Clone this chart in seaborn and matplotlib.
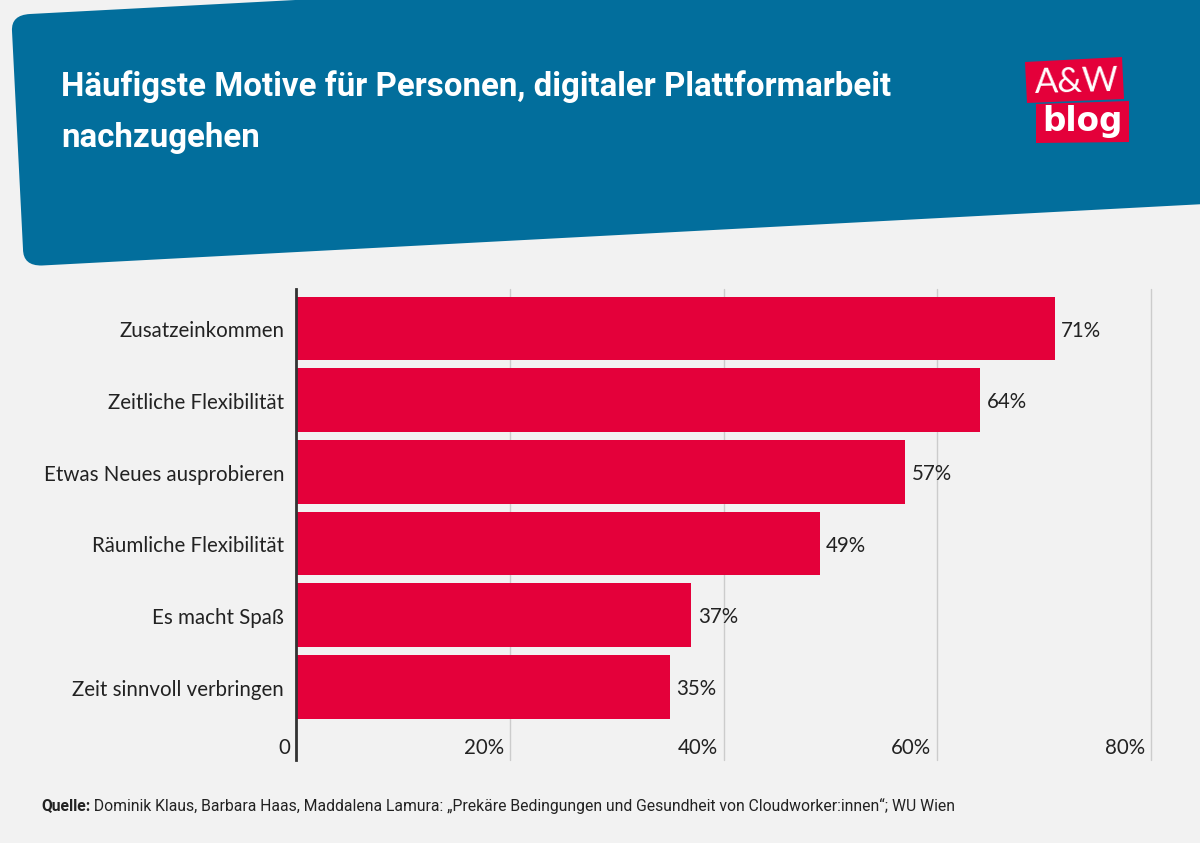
import matplotlib
matplotlib.use("Agg")
import matplotlib.pyplot as plt
import matplotlib.transforms as mtrans
from matplotlib.patches import PathPatch, Polygon
from matplotlib.path import Path
import pandas as pd
import seaborn as sns

motive = ["Zusatzeinkommen", "Zeitliche Flexibilität", "Etwas Neues ausprobieren",
          "Räumliche Flexibilität", "Es macht Spaß", "Zeit sinnvoll verbringen"]
anteil = [71, 64, 57, 49, 37, 35]
anteil_labels = ["71%", "64%", "57%", "49%", "37%", "35%"]
xticks = [0, 20, 40, 60, 80]
xtick_labels = ["0", "20%", "40%", "60%", "80%"]
titel = "Häufigste Motive für Personen, digitaler Plattformarbeit\nnachzugehen"
quelle = "Dominik Klaus, Barbara Haas, Maddalena Lamura: „Prekäre Bedingungen und Gesundheit von Cloudworker:innen“; WU Wien"

BG = "#f2f2f2"
BLAU = "#026e9c"
ROT = "#e4003a"
TEXT = "#222222"
SANS = ["Lato", "DejaVu Sans"]
NARROW = ["Roboto", "DejaVu Sans"]

sns.set_theme(style="white")
plt.rcParams["font.family"] = SANS

W, H = 1200, 843
fig = plt.figure(figsize=(12, 8.43), dpi=100, facecolor=BG)

# overlay in pixel coords for header + logo
bg = fig.add_axes([0, 0, 1, 1], zorder=0)
bg.set_xlim(0, W)
bg.set_ylim(H, 0)
bg.axis("off")

verts = [(30, 14), (1205, -48), (1205, 204), (42, 265.5), (23, 266), (23, 249),
         (12, 31), (11, 15), (30, 14)]
codes = [Path.MOVETO, Path.LINETO, Path.LINETO, Path.LINETO, Path.CURVE3, Path.CURVE3,
         Path.LINETO, Path.CURVE3, Path.CURVE3]
bg.add_patch(PathPatch(Path(verts, codes), facecolor=BLAU, edgecolor="none"))

zeile1, zeile2 = titel.split("\n")
bg.text(61, 87, zeile1, color="white", fontsize=23.8, fontweight="bold",
        family=NARROW, va="center", ha="left")
bg.text(61, 138, zeile2, color="white", fontsize=23.8, fontweight="bold",
        family=NARROW, va="center", ha="left")

# logo
bg.add_patch(Polygon([(1025, 62), (1122, 57), (1124, 99), (1027, 103)], facecolor=ROT, edgecolor="none"))
bg.add_patch(Polygon([(1036, 104), (1129, 101), (1129, 142), (1036, 143)], facecolor=ROT, edgecolor="none"))
bg.text(1077, 82, "A&W", color="white", fontsize=25, family=SANS, ha="center", va="center", rotation=1.5)
bg.text(1082, 121, "blog", color="white", fontsize=23.5, fontweight="bold", family=["DejaVu Sans"],
        ha="center", va="center")

# footer
q = bg.text(41, 806, "Quelle:", color=TEXT, fontsize=11.35, fontweight="bold", family=NARROW, va="center", ha="left")
bg.annotate(" " + quelle, xy=(1, 0.5), xycoords=q, color=TEXT, fontsize=11.35, family=NARROW, va="center", ha="left")

# chart area
ax = fig.add_axes([296 / W, 1 - 760 / H, (1151 - 296) / W, (760 - 289) / H], zorder=1)
ax.patch.set_alpha(0)
df = pd.DataFrame({"motiv": motive, "anteil": anteil})
sns.barplot(data=df, y="motiv", x="anteil", color=ROT, saturation=1, width=0.89, linewidth=0, ax=ax, zorder=3)
wert_labels = ax.bar_label(ax.containers[0], labels=anteil_labels, padding=4, fontsize=14.8, color=TEXT)
for t in wert_labels:
    # labels sit slightly lower in the original
    t.xyann = (t.xyann[0] + 0.7, t.xyann[1] - 1.5)

ax.set_xlim(0, 80)
ax.set_ylim(6.02, -0.55)
ax.set_xlabel("")
ax.set_ylabel("")
sns.despine(ax=ax, top=True, right=True, bottom=True, left=False)
ax.spines["left"].set_color("#333333")
ax.spines["left"].set_linewidth(2)
ax.spines["left"].set_zorder(5)

ax.set_xticks(xticks)
ax.set_xticklabels(xtick_labels)
ax.grid(axis="x", color="#cccccc", linewidth=1, zorder=0)
ax.grid(axis="y", visible=False)
ax.set_axisbelow(True)
ax.tick_params(axis="x", length=0, pad=-16, labelsize=14.8, labelcolor=TEXT)
ax.tick_params(axis="y", length=0, pad=8.5, labelsize=14.8, labelcolor=TEXT)
shift = mtrans.ScaledTranslation(-6 / 100, 0, fig.dpi_scale_trans)
for lab in ax.get_xticklabels():
    lab.set_ha("right")
    lab.set_transform(lab.get_transform() + shift)
shift_y = mtrans.ScaledTranslation(0, -1 / 100, fig.dpi_scale_trans)
for lab in ax.get_yticklabels():
    lab.set_transform(lab.get_transform() + shift_y)
for gl in ax.get_xgridlines():
    gl.set_clip_on(False)

fig.savefig("out.png", dpi=100, facecolor=BG)
